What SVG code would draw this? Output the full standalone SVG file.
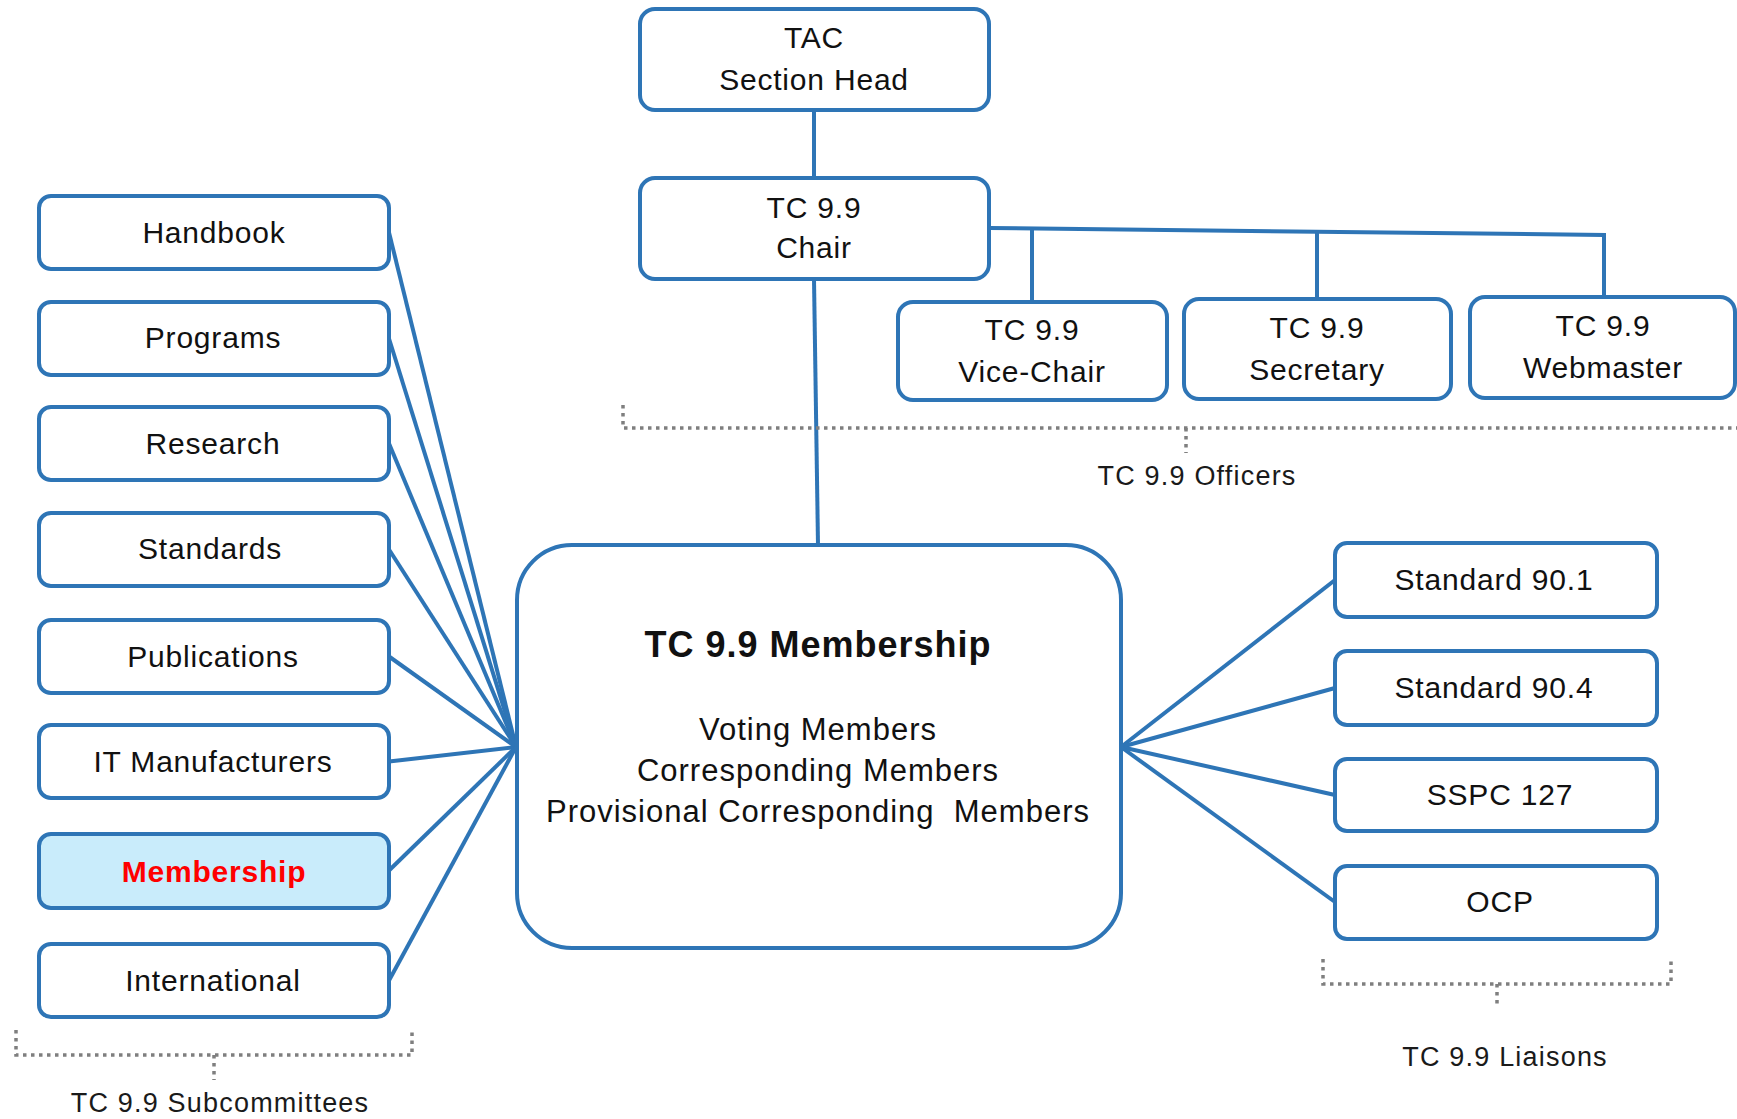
<svg xmlns="http://www.w3.org/2000/svg" width="1737" height="1119" viewBox="0 0 1737 1119">
<style>
  .box { fill: #ffffff; stroke: #2E75B6; stroke-width: 4; }
  .hl { fill: #C9ECFB; stroke: #2E75B6; stroke-width: 4; }
  .t { font-family: "Liberation Sans", Arial, sans-serif; font-size: 30px; letter-spacing: 0.8px; fill: #111111; text-anchor: middle; }
  .tb { font-family: "Liberation Sans", Arial, sans-serif; font-size: 30px; font-weight: bold; letter-spacing: 0.8px; fill: #FF0000; text-anchor: middle; }
  .title { font-family: "Liberation Sans", Arial, sans-serif; font-size: 36px; font-weight: bold; letter-spacing: 1px; fill: #111111; text-anchor: middle; }
  .ct { font-family: "Liberation Sans", Arial, sans-serif; font-size: 31px; letter-spacing: 1px; fill: #111111; text-anchor: middle; white-space: pre; }
  .lbl { font-family: "Liberation Sans", Arial, sans-serif; font-size: 27px; letter-spacing: 1.2px; fill: #1a1a1a; text-anchor: middle; }
  .conn { fill: none; stroke: #2E75B6; stroke-width: 4; stroke-linejoin: miter; }
  .brk { fill: none; stroke: #7F7F7F; stroke-width: 3.5; stroke-dasharray: 3.5 4.5; }
</style>

<g id="connectors">
  <path class="conn" d="M814,110 L814,178"/>
  <path class="conn" d="M814,279 L818,545"/>
  <path class="conn" d="M989,228 L1604,235 L1604,297"/>
  <path class="conn" d="M1032,229 L1032,302"/>
  <path class="conn" d="M1317,232 L1317,299"/>
  <path class="conn" d="M389,232.5 L516,747"/>
  <path class="conn" d="M389,338.5 L516,747"/>
  <path class="conn" d="M389,443.5 L516,747"/>
  <path class="conn" d="M389,549.5 L516,747"/>
  <path class="conn" d="M389,656.5 L516,747"/>
  <path class="conn" d="M389,761.5 L516,747"/>
  <path class="conn" d="M389,870.5 L516,747"/>
  <path class="conn" d="M389,980.5 L516,747"/>
  <path class="conn" d="M1121,747 L1335,580"/>
  <path class="conn" d="M1121,747 L1335,688"/>
  <path class="conn" d="M1121,747 L1335,795"/>
  <path class="conn" d="M1121,747 L1335,902"/>
</g>

<g id="tac">
  <rect class="box" x="640" y="9" width="349" height="101" rx="15"/>
  <text class="t" x="814" y="48">TAC</text>
  <text class="t" x="814" y="90">Section Head</text>
</g>
<g id="chair">
  <rect class="box" x="640" y="178" width="349" height="101" rx="15"/>
  <text class="t" x="814" y="218">TC 9.9</text>
  <text class="t" x="814" y="258">Chair</text>
</g>
<g id="vice-chair">
  <rect class="box" x="898" y="302" width="269" height="98" rx="15"/>
  <text class="t" x="1032" y="340">TC 9.9</text>
  <text class="t" x="1032" y="382">Vice-Chair</text>
</g>
<g id="secretary">
  <rect class="box" x="1184" y="299" width="267" height="100" rx="15"/>
  <text class="t" x="1317" y="338">TC 9.9</text>
  <text class="t" x="1317" y="380">Secretary</text>
</g>
<g id="webmaster">
  <rect class="box" x="1470" y="297" width="265" height="101" rx="15"/>
  <text class="t" x="1603" y="336">TC 9.9</text>
  <text class="t" x="1603" y="378">Webmaster</text>
</g>

<g id="membership-center">
  <rect class="box" x="517" y="545" width="604" height="403" rx="55"/>
  <text class="title" x="818" y="657">TC 9.9 Membership</text>
  <text class="ct" x="818" y="740">Voting Members</text>
  <text class="ct" x="818" y="781">Corresponding Members</text>
  <text class="ct" x="818" y="822" xml:space="preserve">Provisional Corresponding  Members</text>
</g>

<g id="handbook">
  <rect class="box" x="39" y="196" width="350" height="73" rx="12"/>
  <text class="t" x="214" y="243">Handbook</text>
</g>
<g id="programs">
  <rect class="box" x="39" y="302" width="350" height="73" rx="12"/>
  <text class="t" x="213" y="348">Programs</text>
</g>
<g id="research">
  <rect class="box" x="39" y="407" width="350" height="73" rx="12"/>
  <text class="t" x="213" y="454">Research</text>
</g>
<g id="standards">
  <rect class="box" x="39" y="513" width="350" height="73" rx="12"/>
  <text class="t" x="210" y="559">Standards</text>
</g>
<g id="publications">
  <rect class="box" x="39" y="620" width="350" height="73" rx="12"/>
  <text class="t" x="213" y="667">Publications</text>
</g>
<g id="it-manufacturers">
  <rect class="box" x="39" y="725" width="350" height="73" rx="12"/>
  <text class="t" x="213" y="772">IT Manufacturers</text>
</g>
<g id="membership">
  <rect class="hl" x="39" y="834" width="350" height="74" rx="12"/>
  <text class="tb" x="214" y="882">Membership</text>
</g>
<g id="international">
  <rect class="box" x="39" y="944" width="350" height="73" rx="12"/>
  <text class="t" x="213" y="991">International</text>
</g>

<g id="standard-90-1">
  <rect class="box" x="1335" y="543" width="322" height="74" rx="12"/>
  <text class="t" x="1494" y="590">Standard 90.1</text>
</g>
<g id="standard-90-4">
  <rect class="box" x="1335" y="651" width="322" height="74" rx="12"/>
  <text class="t" x="1494" y="698">Standard 90.4</text>
</g>
<g id="sspc-127">
  <rect class="box" x="1335" y="759" width="322" height="72" rx="12"/>
  <text class="t" x="1500" y="805">SSPC 127</text>
</g>
<g id="ocp">
  <rect class="box" x="1335" y="866" width="322" height="73" rx="12"/>
  <text class="t" x="1500" y="912">OCP</text>
</g>

<g id="officers-bracket">
  <path class="brk" d="M623,405 L623,428 L1745,428"/>
  <path class="brk" d="M1186,428 L1186,453"/>
  <text class="lbl" x="1197" y="485">TC 9.9 Officers</text>
</g>
<g id="liaisons-bracket">
  <path class="brk" d="M1323,959 L1323,984 L1671,984 L1671,959"/>
  <path class="brk" d="M1497,984 L1497,1008"/>
  <text class="lbl" x="1505" y="1066">TC 9.9 Liaisons</text>
</g>
<g id="subcommittees-bracket">
  <path class="brk" d="M16,1030 L16,1055 L412,1055 L412,1030"/>
  <path class="brk" d="M214,1055 L214,1080"/>
  <text class="lbl" x="220" y="1112">TC 9.9 Subcommittees</text>
</g>
</svg>
